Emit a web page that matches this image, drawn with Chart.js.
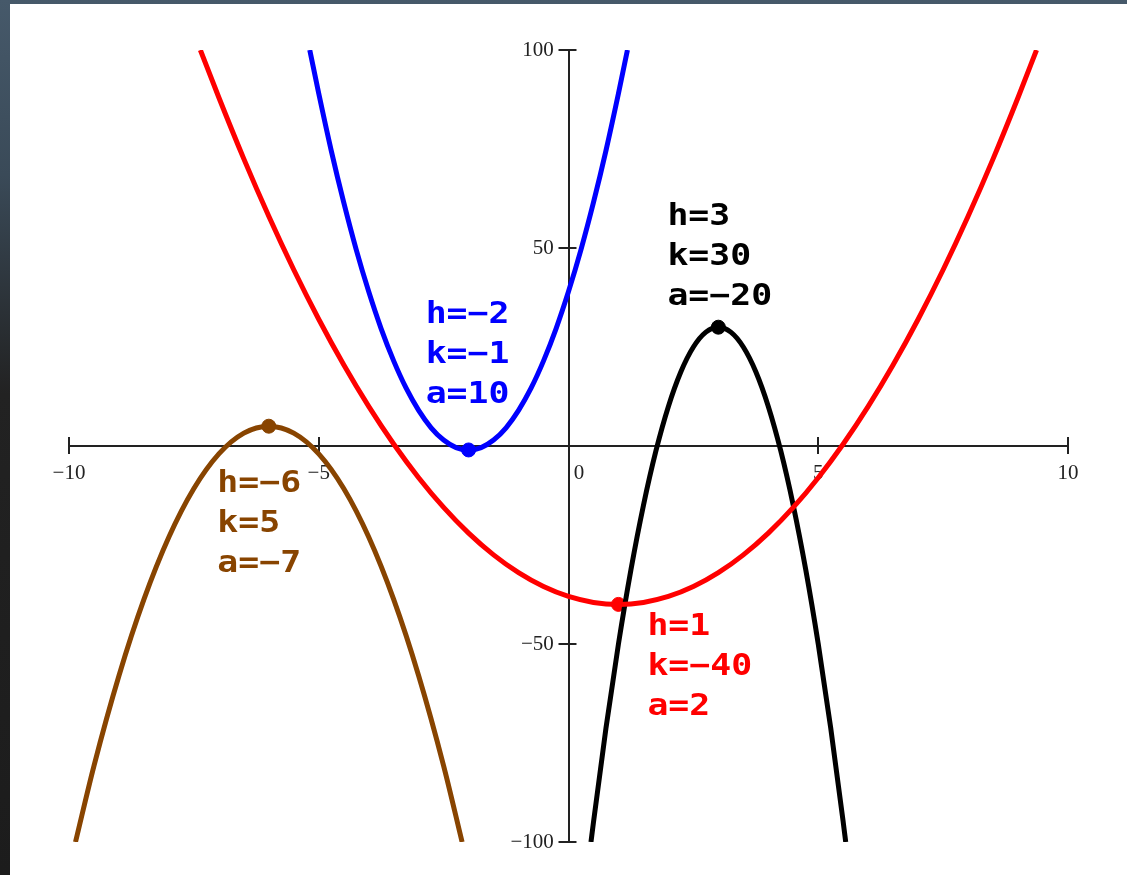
<!DOCTYPE html>
<html>
<head>
<meta charset="utf-8">
<script src="https://cdn.jsdelivr.net/npm/chart.js@4"></script>
<style>
  html, body { margin:0; padding:0; }
  body {
    width:1127px; height:875px; overflow:hidden; position:relative;
    background: linear-gradient(180deg, #46596a 0%, #3a4a58 20%, #222 45%, #1c1c1c 100%);
  }
  #paper { position:absolute; left:10px; top:4px; right:0; bottom:0; background:#fff; }
  #wrap { position:absolute; left:0; top:0; width:1127px; height:875px; }
</style>
</head>
<body>
<div id="paper"></div>
<div id="wrap"><canvas id="parab_chart" width="1127" height="875"></canvas></div>
<script>
// vertex form y = a(x-h)^2 + k
let names = ["blue", "red", "black", "brown"];
let hVals = [-2, 1, 3, -6];
let kVals = [-1, -40, 30, 5];
let aVals = [10, 2, -20, -7];

let blueX = [-5.18, -5, -4.75, -4.5, -4.25, -4, -3.75, -3.5, -3.25, -3, -2.75, -2.5, -2.25, -2,
    -1.75, -1.5, -1.25, -1, -0.75, -0.5, -0.25, 0, 0.25, 0.5, 0.75, 1, 1.18];
let blueY = [100, 89, 74.6, 61.5, 49.6, 39, 29.6, 21.5, 14.6, 9, 4.6, 1.5, -0.4, -1,
    -0.4, 1.5, 4.6, 9, 14.6, 21.5, 29.6, 39, 49.6, 61.5, 74.6, 89, 100];

let redX = [-7.37, -7, -6.5, -6, -5.5, -5, -4.5, -4, -3.5, -3, -2.5, -2, -1.5, -1, -0.5, 0, 0.5, 1,
    1.5, 2, 2.5, 3, 3.5, 4, 4.5, 5, 5.5, 6, 6.5, 7, 7.5, 8, 8.5, 9, 9.37];
let redY = [100, 88, 72.5, 58, 44.5, 32, 20.5, 10, 0.5, -8, -15.5, -22, -27.5, -32, -35.5, -38, -39.5, -40,
    -39.5, -38, -35.5, -32, -27.5, -22, -15.5, -8, 0.5, 10, 20.5, 32, 44.5, 58, 72.5, 88, 100];

let blackX = [0.45, 0.5, 0.75, 1, 1.25, 1.5, 1.75, 2, 2.25, 2.5, 2.75, 3,
    3.25, 3.5, 3.75, 4, 4.25, 4.5, 4.75, 5, 5.25, 5.5, 5.55];
let blackY = [-100, -95, -71.25, -50, -31.25, -15, -1.25, 10, 18.75, 25, 28.75, 30,
    28.75, 25, 18.75, 10, -1.25, -15, -31.25, -50, -71.25, -95, -100];

let brownX = [-9.87, -9.5, -9, -8.5, -8, -7.5, -7, -6.5, -6, -5.5, -5, -4.5, -4, -3.5, -3, -2.5, -2.13];
let brownY = [-100, -80.75, -58, -38.75, -23, -10.75, -2, 3.25, 5, 3.25, -2, -10.75, -23, -38.75, -58, -80.75, -100];

let xTicks = [-10, -5, 0, 5, 10];
let yTicks = [-100, -50, 0, 50, 100];

let colors = {blue:"#0000ff", red:"#ff0000", black:"#000000", brown:"#884400"};
let textAt = {blue:[-2.86, 31.1], red:[1.58, -47.7], black:[1.98, 55.8], brown:[-7.03, -11.6]};

function pts(xs, ys){
    return xs.map((x, i) => ({x:x, y:ys[i]}));
}

let curves = [
    {name:"blue", data:pts(blueX, blueY)},
    {name:"red", data:pts(redX, redY)},
    {name:"black", data:pts(blackX, blackY)},
    {name:"brown", data:pts(brownX, brownY)}
];

let datasets = curves.map(c => ({
    label:c.name,
    data:c.data,
    showLine:true,
    borderColor:colors[c.name],
    borderWidth:5,
    pointRadius:0,
    cubicInterpolationMode:"monotone"
}));
names.forEach((n, i) => {
    datasets.push({
        label:n + " vertex",
        data:[{x:hVals[i], y:kVals[i]}],
        backgroundColor:colors[n],
        borderColor:colors[n],
        pointRadius:7,
        pointHoverRadius:7
    });
});

// tick marks crossing the axes
let crossTicks = {
    id:"crossTicks",
    beforeDatasetsDraw(chart){
        let c = chart.ctx, xs = chart.scales.x, ys = chart.scales.y;
        let x0 = xs.getPixelForValue(0), y0 = ys.getPixelForValue(0);
        c.save();
        c.strokeStyle = "#222";
        c.lineWidth = 2;
        xTicks.forEach(v => {
            if (v === 0) return;
            let px = Math.round(xs.getPixelForValue(v));
            c.beginPath(); c.moveTo(px, y0 - 9); c.lineTo(px, y0 + 8); c.stroke();
        });
        yTicks.forEach(v => {
            let py = Math.round(ys.getPixelForValue(v));
            c.beginPath(); c.moveTo(x0 - 10, py); c.lineTo(x0 + 8, py); c.stroke();
        });
        c.restore();
    }
};

// h, k, a notes beside each vertex
let notes = {
    id:"notes",
    afterDatasetsDraw(chart){
        let c = chart.ctx, xs = chart.scales.x, ys = chart.scales.y;
        c.save();
        c.font = "bold 30px 'DejaVu Sans Mono'";
        c.textBaseline = "alphabetic";
        names.forEach((n, i) => {
            let px = xs.getPixelForValue(textAt[n][0]);
            let py = ys.getPixelForValue(textAt[n][1]);
            let lines = ["h=" + hVals[i], "k=" + kVals[i], "a=" + aVals[i]];
            c.fillStyle = colors[n];
            lines.forEach((t, j) => {
                c.save();
                c.translate(px, py + j * 40);
                c.scale(1.16, 1);
                c.fillText(t.replace(/-/g, "\u2212"), 0, 0);
                c.restore();
            });
        });
        c.restore();
    }
};

let ctx = document.getElementById("parab_chart");
let parab_chart = new Chart(ctx, {
    type:"scatter",
    data:{datasets:datasets},
    plugins:[crossTicks, notes],
    options:{
        responsive:false,
        animation:false,
        layout:{padding:{left:69, right:59, top:50, bottom:33}},
        plugins:{legend:{display:false}, tooltip:{enabled:false}},
        scales:{
            x:{
                type:"linear",
                position:{y:0},
                min:-10, max:10,
                afterBuildTicks:(s) => { s.ticks = xTicks.map(v => ({value:v})); },
                grid:{display:false, drawTicks:false},
                border:{display:true, color:"#222", width:2},
                ticks:{
                    padding:15,
                    color:"#222",
                    font:{family:"'Liberation Serif', serif", size:21},
                    maxRotation:0,
                    callback:(v) => v === 0 ? "\u20030" : String(v).replace("-", "\u2212")
                }
            },
            y:{
                type:"linear",
                position:{x:0},
                min:-100, max:100,
                afterBuildTicks:(s) => { s.ticks = yTicks.map(v => ({value:v})); },
                grid:{display:false, drawTicks:false},
                border:{display:true, color:"#222", width:2},
                ticks:{
                    padding:14,
                    color:"#222",
                    font:{family:"'Liberation Serif', serif", size:21},
                    callback:(v) => v === 0 ? "" : String(v).replace("-", "\u2212") + "\u2002\u2009"
                }
            }
        }
    }
});
</script>
</body>
</html>
